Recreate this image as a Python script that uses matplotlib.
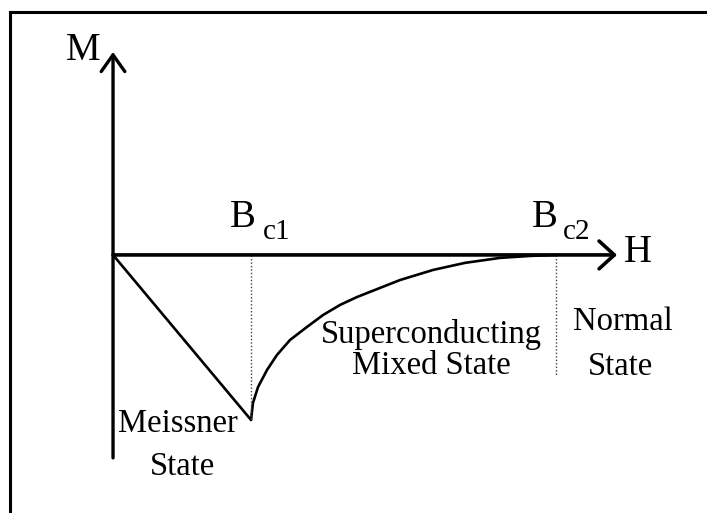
import matplotlib
matplotlib.use("Agg")
import matplotlib.pyplot as plt
from matplotlib.lines import Line2D

plt.rcParams['font.family'] = ['Liberation Serif', 'DejaVu Serif']

# field values in units of Bc1, magnetisation in units of -M(Bc1)
bc1 = 1.0
bc2 = 3.21

# Meissner state: linear drop
meissner_h = [0.0, 1.0]
meissner_m = [0.0, -1.0]

# mixed state curve
mixed_h = [1.000, 1.014, 1.051, 1.116, 1.188, 1.283, 1.406, 1.522, 1.645,
           1.768, 2.080, 2.319, 2.551, 2.804, 3.022, 3.210]
mixed_m = [-1.000, -0.897, -0.800, -0.697, -0.606, -0.515, -0.436, -0.364, -0.303,
           -0.255, -0.152, -0.091, -0.048, -0.018, -0.006, 0.000]

fig = plt.figure(figsize=(7.07, 5.13), dpi=100)
ax = fig.add_axes([0, 0, 1, 1])
ax.set_xlim(-0.819, 4.304)
ax.set_ylim(-1.564, 1.545)
ax.axis('off')

# frame (top and left only)
fig.add_artist(Line2D([10 / 707, 706 / 707], [1 - 12 / 513, 1 - 12 / 513],
                      transform=fig.transFigure, color='black', lw=2.2))
fig.add_artist(Line2D([10 / 707, 10 / 707], [0, 1 - 12 / 513],
                      transform=fig.transFigure, color='black', lw=2.2))

# axes with arrows
ax.annotate('', xy=(0, 1.23), xytext=(0, -1.23),
            arrowprops=dict(arrowstyle='->,head_length=1.2,head_width=0.85',
                            lw=2.4, color='black', shrinkA=0, shrinkB=0))
ax.annotate('', xy=(3.652, 0), xytext=(0, 0),
            arrowprops=dict(arrowstyle='->,head_length=1.1,head_width=1.0',
                            lw=2.6, color='black', shrinkA=0, shrinkB=0))

# curves
ax.plot(meissner_h, meissner_m, color='black', lw=1.9, solid_capstyle='round')
ax.plot(mixed_h, mixed_m, color='black', lw=1.9, solid_capstyle='round',
        solid_joinstyle='round')

# dotted critical field markers
ax.plot([bc1, bc1], [0, -1.0], color='#444444', lw=1.0, ls=(0, (1, 1.5)))
ax.plot([bc2, bc2], [0, -0.727], color='#444444', lw=1.0, ls=(0, (1, 1.5)))

big = 28
sub = 21
small = 23.5
ax.text(-0.094, 1.18, 'M', fontsize=big, ha='right', va='baseline')
ax.text(3.70, -0.042, 'H', fontsize=big, ha='left', va='baseline')
ax.text(0.848, 0.170, 'B', fontsize=big, ha='left', va='baseline')
ax.text(1.087, 0.097, 'c1', fontsize=sub, ha='left', va='baseline')
ax.text(3.036, 0.170, 'B', fontsize=big, ha='left', va='baseline')
ax.text(3.261, 0.097, 'c2', fontsize=sub, ha='left', va='baseline')

ax.text(0.471, -1.073, 'Meissner', fontsize=small, ha='center', va='baseline')
ax.text(0.500, -1.333, 'State', fontsize=small, ha='center', va='baseline')
ax.text(2.304, -0.533, 'Superconducting', fontsize=small, ha='center', va='baseline')
ax.text(2.304, -0.721, 'Mixed State', fontsize=small, ha='center', va='baseline')
ax.text(3.692, -0.455, 'Normal', fontsize=small, ha='center', va='baseline')
ax.text(3.674, -0.727, 'State', fontsize=small, ha='center', va='baseline')

fig.savefig('out.png', dpi=100)
